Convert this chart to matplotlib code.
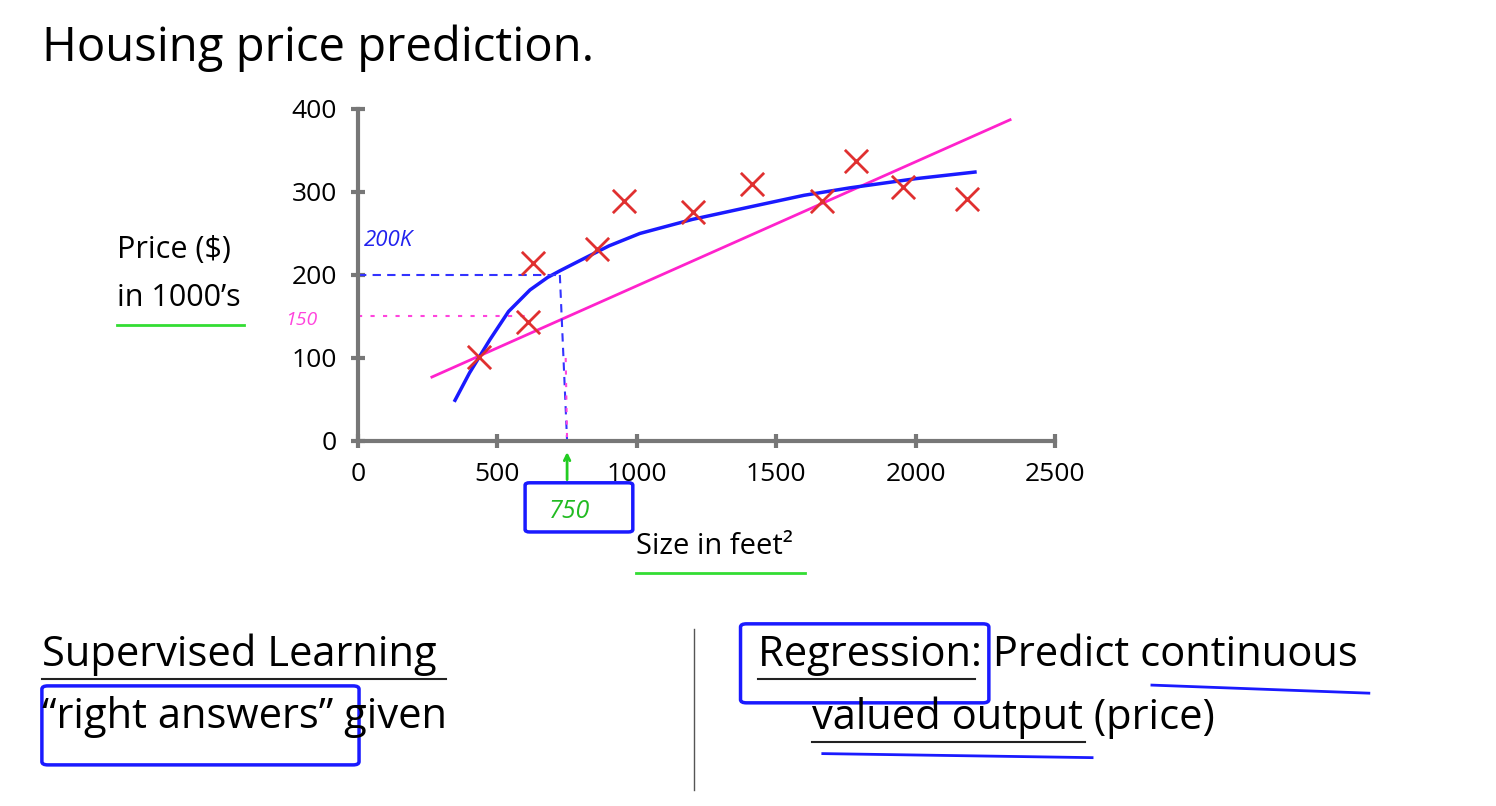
import matplotlib.pyplot as plt
from matplotlib.patches import FancyBboxPatch

plt.rcParams['font.family'] = ['Open Sans', 'DejaVu Sans']

# ---------------- DATA ---------------- #
size_x = [434, 628, 610, 857, 954, 1202, 1413, 1664, 1786, 1955, 2184]
price_y = [101, 214, 143, 231, 289, 276, 310, 289, 337, 306, 292]

line_x = [265, 2339]
line_y = [77, 387]

curve_x = [348, 400, 473, 540, 617, 680, 724, 800, 900, 1011, 1200, 1406, 1600, 1765, 2000, 2213]
curve_y = [49, 82, 122, 156, 182, 197, 205, 218, 235, 250, 267, 282, 296, 305, 316, 324]

xticks = [0, 500, 1000, 1500, 2000, 2500]
yticks = [0, 100, 200, 300, 400]

# ---------------- FIGURE ---------------- #
fig = plt.figure(figsize=(14.96, 8.06), dpi=100)
ax = fig.add_axes([0.2393, 0.4529, 0.4659, 0.4119])
ax.set_xlim(0, 2500)
ax.set_ylim(0, 400)
for s in ["top", "right"]:
    ax.spines[s].set_visible(False)
for s in ["left", "bottom"]:
    ax.spines[s].set_color("#777777")
    ax.spines[s].set_linewidth(3)
ax.set_xticks(xticks)
ax.set_yticks(yticks)
ax.tick_params(direction="inout", length=10, width=3, color="#777777", labelsize=19, pad=10)

ax.plot(line_x, line_y, color="#ff22cc", lw=2, clip_on=False)
ax.plot(curve_x, curve_y, color="#1a1aff", lw=2.5, clip_on=False)
ax.scatter(size_x, price_y, marker="x", s=280, color="#e03030", linewidths=2, zorder=3, clip_on=False)

# annotations
ax.plot([0, 724], [200, 200], color="#3333ff", lw=1.5, ls=(0, (4, 3)))
ax.plot([724, 750], [200, 0], color="#3333ff", lw=1.5, ls=(0, (4, 3)))
ax.plot([0, 610], [150, 150], color="#ff44dd", lw=1.5, ls=(0, (2, 4)))
ax.plot([745, 750], [100, 0], color="#ff44dd", lw=1.5, ls=(0, (2, 4)))
ax.text(20, 235, "200K", color="#2222ee", fontsize=16, style="italic")
ax.text(-260, 140, "150", color="#ff44dd", fontsize=14, style="italic")
ax.annotate("", xy=(750, -10), xytext=(750, -50), annotation_clip=False,
            arrowprops=dict(arrowstyle="->", color="#22cc22", lw=2))
ax.text(760, -85, "750", color="#22bb22", fontsize=18, ha="center", va="center", style="italic")
fig.patches.append(FancyBboxPatch((0.354, 0.343), 0.066, 0.055, boxstyle="round,pad=0.003",
                                  transform=fig.transFigure, fill=False, ec="#1a1aff", lw=2.5))

# ---------------- TEXT ---------------- #
fig.text(0.028, 0.94, "Housing price prediction.", fontsize=34, va="center")
fig.text(0.078, 0.69, "Price ($)", fontsize=22, va="center")
fig.text(0.078, 0.63, "in 1000\u2019s", fontsize=22, va="center")
fig.add_artist(plt.Line2D([0.078, 0.163], [0.597, 0.597], color="#33dd33", lw=2))
fig.text(0.425, 0.322, "Size in feet\u00b2", fontsize=21, va="center")
fig.add_artist(plt.Line2D([0.425, 0.538], [0.289, 0.289], color="#33dd33", lw=2))

fig.text(0.028, 0.188, "Supervised Learning", fontsize=30, va="center")
fig.add_artist(plt.Line2D([0.028, 0.298], [0.158, 0.158], color="#222222", lw=1.5))
fig.text(0.028, 0.11, "\u201cright answers\u201d given", fontsize=30, va="center")
fig.patches.append(FancyBboxPatch((0.032, 0.055), 0.204, 0.09, boxstyle="round,pad=0.004",
                                  transform=fig.transFigure, fill=False, ec="#1a1aff", lw=2.5))
fig.add_artist(plt.Line2D([0.464, 0.464], [0.02, 0.22], color="#555555", lw=1))
fig.text(0.507, 0.188, "Regression: Predict continuous", fontsize=30, va="center")
fig.add_artist(plt.Line2D([0.507, 0.652], [0.158, 0.158], color="#222222", lw=1.5))
fig.patches.append(FancyBboxPatch((0.499, 0.132), 0.158, 0.09, boxstyle="round,pad=0.004",
                                  transform=fig.transFigure, fill=False, ec="#1a1aff", lw=2.5))
fig.add_artist(plt.Line2D([0.77, 0.915], [0.15, 0.14], color="#1a1aff", lw=2))
fig.text(0.543, 0.11, "valued output (price)", fontsize=30, va="center")
fig.add_artist(plt.Line2D([0.543, 0.725], [0.08, 0.08], color="#222222", lw=1.5))
fig.add_artist(plt.Line2D([0.55, 0.73], [0.065, 0.06], color="#1a1aff", lw=2))

fig.savefig("out.png", dpi=100)
